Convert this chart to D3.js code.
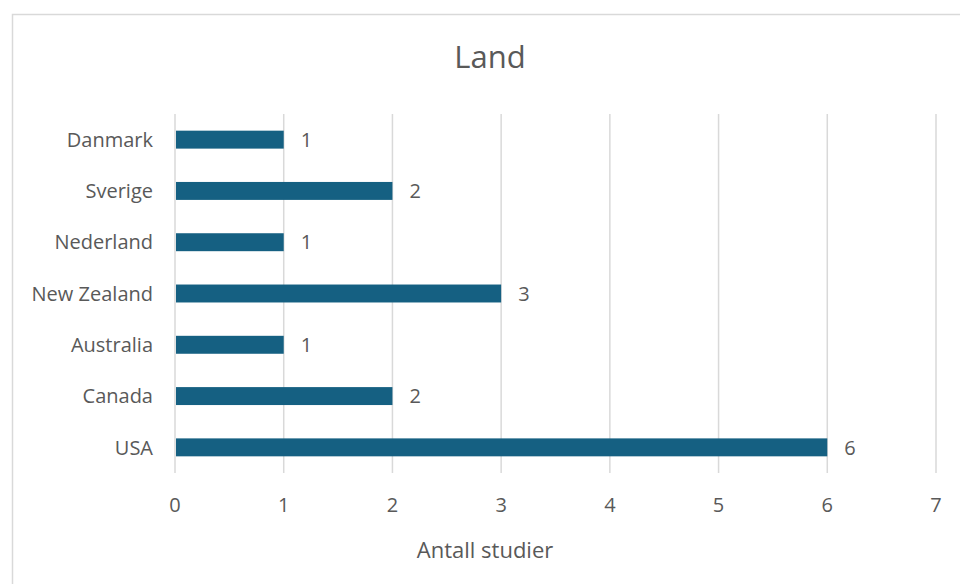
<!doctype html>
<html>
<head>
    <meta charset="utf-8">
    <script src="https://d3js.org/d3.v7.min.js"></script>
    <style>
        body { margin: 0; background: #fff; }
        text { font-family: "Open Sans", "Noto Sans", sans-serif; fill: #595959; }
    </style>
</head>
<body>
    <script>
        let countries = ["Danmark", "Sverige", "Nederland", "New Zealand", "Australia", "Canada", "USA"];
        let studies = [1, 2, 1, 3, 1, 2, 6];
        let xTicks = [0, 1, 2, 3, 4, 5, 6, 7];

        let width = 960, height = 584;
        let svg = d3.select("body").append("svg")
                    .attr("width", width).attr("height", height);

        // chart frame (runs off the right and bottom edge)
        svg.append("rect")
            .attr("x", 12.5).attr("y", 14.5)
            .attr("width", 1000).attr("height", 1000)
            .attr("fill", "none").attr("stroke", "#d9d9d9").attr("stroke-width", 1.5);

        let x = d3.scaleLinear().domain([0, 7]).range([175, 936]);
        let y = d3.scaleBand().domain(countries).range([114, 473]).paddingInner(0.65).paddingOuter(0.325);

        // gridlines
        svg.selectAll(".grid").data(xTicks).enter().append("line")
            .attr("x1", d => x(d)).attr("x2", d => x(d))
            .attr("y1", 114).attr("y2", 473)
            .attr("stroke", "#d9d9d9").attr("stroke-width", 1.5);

        // bars
        svg.selectAll(".bar").data(countries).enter().append("rect")
            .attr("x", x(0) + 1)
            .attr("y", d => y(d))
            .attr("width", (d, i) => x(studies[i]) - x(0) - 1)
            .attr("height", y.bandwidth())
            .attr("fill", "#156082");

        // value labels
        svg.selectAll(".val").data(countries).enter().append("text")
            .attr("x", (d, i) => x(studies[i]) + 17)
            .attr("y", d => y(d) + y.bandwidth() / 2)
            .attr("dy", "0.36em")
            .style("font-size", "20px")
            .text((d, i) => studies[i]);

        // category labels
        svg.selectAll(".cat").data(countries).enter().append("text")
            .attr("x", 153)
            .attr("y", d => y(d) + y.bandwidth() / 2)
            .attr("dy", "0.36em")
            .attr("text-anchor", "end")
            .style("font-size", "20px")
            .text(d => d);

        // x tick labels
        svg.selectAll(".tick").data(xTicks).enter().append("text")
            .attr("x", d => x(d))
            .attr("y", 505)
            .attr("dy", "0.36em")
            .attr("text-anchor", "middle")
            .style("font-size", "20px")
            .text(d => d);

        svg.append("text")
            .attr("x", 490).attr("y", 57).attr("dy", "0.36em")
            .attr("text-anchor", "middle")
            .style("font-size", "31px")
            .text("Land");

        svg.append("text")
            .attr("x", 485).attr("y", 550).attr("dy", "0.36em")
            .attr("text-anchor", "middle")
            .style("font-size", "22px")
            .text("Antall studier");
    </script>
</body>
</html>
